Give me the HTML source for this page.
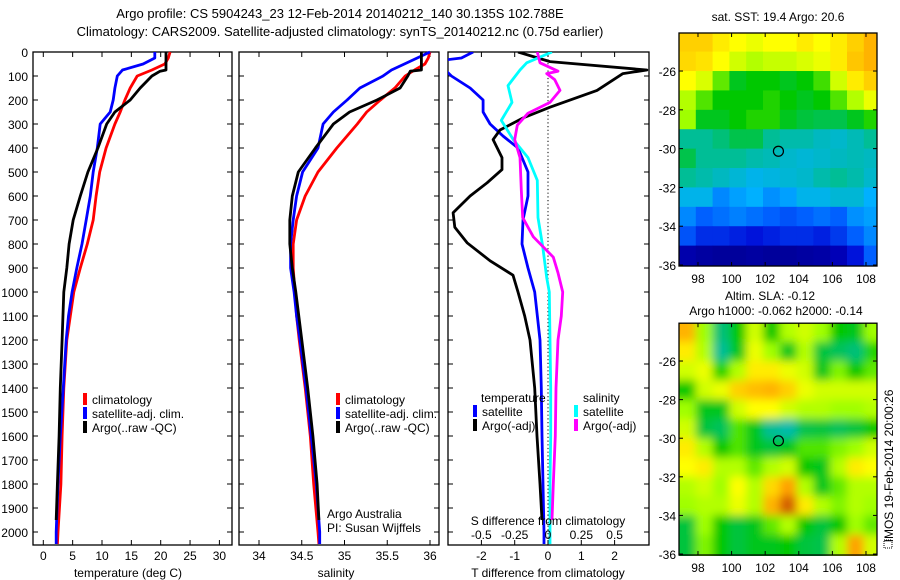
<!DOCTYPE html>
<html><head><meta charset="utf-8"><style>
body{margin:0;background:#fff;}
svg{display:block;font-family:"Liberation Sans",sans-serif;}
text{fill:#000;}
</style></head><body>
<svg id="c" width="900" height="580" viewBox="0 0 900 580">
<defs>
<clipPath id="cp3"><rect x="448" y="52" width="201" height="493"/></clipPath>
<clipPath id="cpm1"><rect x="679" y="33" width="198" height="233"/></clipPath>
<clipPath id="cpm2"><rect x="679" y="323" width="198" height="233"/></clipPath>
<filter id="blur" x="-10%" y="-10%" width="120%" height="120%"><feGaussianBlur stdDeviation="4.5"/></filter>
</defs>
<text x="340" y="18" font-size="13" text-anchor="middle">Argo profile: CS 5904243_23 12-Feb-2014 20140212_140 30.135S 102.788E</text>
<text x="340" y="36" font-size="13" text-anchor="middle">Climatology: CARS2009. Satellite-adjusted climatology: synTS_20140212.nc (0.75d earlier)</text>
<g id="g"></g>
</svg>
<script>
// ---------- data ----------
const depthT = [0,25,50,75,100,150,200,250,300,400,500,600,700,800,900,1000,1100,1200,1400,1600,1800,2000,2050];
const tempClim = [21.6,21.3,20.7,18.5,16,14.8,13.9,13.1,12.2,10.7,9.6,9.0,8.5,7.5,6.3,5.2,4.6,4.0,3.5,3.2,3.0,2.5,2.4];
const tempSat = [19,19,17,13.5,12.6,12.2,11.9,11.4,9.7,9.2,8.5,8.0,7.3,6.6,5.7,4.9,4.3,3.9,3.4,2.9,2.5,2.2,2.2];
const depthArgo = [0,75,80,100,150,200,250,300,400,500,600,700,800,900,1000,1200,1400,1600,1800,1950];
const tempArgo = [20.9,20.9,19.9,18.5,16.5,14.8,12.2,10.8,9.3,7.6,6.3,5.1,4.4,4.0,3.5,3.2,2.9,2.7,2.4,2.2];
const salClim = [36.0,35.98,35.94,35.82,35.71,35.59,35.42,35.26,35.15,34.91,34.69,34.54,34.44,34.40,34.40,34.42,34.44,34.47,34.54,34.60,34.64,34.69,34.70];
const salSat = [36.0,35.85,35.7,35.55,35.45,35.18,35.03,34.87,34.75,34.69,34.51,34.44,34.40,34.37,34.37,34.41,34.44,34.48,34.55,34.61,34.67,34.71,34.71];
const salArgo = [35.9,35.9,35.77,35.74,35.65,35.38,35.06,34.87,34.66,34.46,34.39,34.36,34.36,34.39,34.43,34.5,34.57,34.63,34.68,34.70];
const depthTd = [0,40,75,90,160,230,275,325,365,440,490,545,600,670,730,795,870,930,1000,1100,1200,1400,1600,1800,1950];
const tDiffArgo = [-0.9,0.06,2.97,2.25,1.47,0.06,-0.75,-1.44,-1.65,-1.38,-1.38,-1.83,-2.34,-2.85,-2.8,-2.43,-1.74,-1.05,-0.9,-0.7,-0.54,-0.4,-0.33,-0.24,-0.18];
const depthTs = [0,25,35,60,100,150,200,250,300,350,400,500,600,700,800,900,1000,1200,1400,1600,1800,2000,2050];
const tDiffSat = [-2.25,-2.6,-3.2,-3.2,-2.9,-2.34,-1.95,-1.95,-1.74,-1.35,-0.9,-0.6,-0.6,-0.75,-0.78,-0.6,-0.4,-0.24,-0.2,-0.18,-0.15,-0.12,-0.12];
const depthSs = [0,45,75,140,210,285,365,440,535,690,810,940,1000,1200,1400,1600,1800,2000,2050];
const sDiffSat = [0.03,-0.16,-0.21,-0.3,-0.27,-0.35,-0.26,-0.15,-0.08,-0.075,-0.04,-0.01,0.01,0.015,0.02,0.02,0.015,0.015,0.015];
const depthSa = [0,45,80,90,115,160,210,255,305,365,440,575,690,770,855,920,1000,1100,1200,1400,1600,1800,1950];
const sDiffArgo = [-0.08,-0.06,0.075,-0.01,0.05,0.09,0.015,-0.15,-0.23,-0.25,-0.21,-0.2,-0.19,-0.11,0.04,0.075,0.11,0.1,0.075,0.06,0.055,0.04,0.03];
const depthTicks = [0,100,200,300,400,500,600,700,800,900,1000,1100,1200,1300,1400,1500,1600,1700,1800,1900,2000];
const tempTicks = [0,5,10,15,20,25,30];
const salTicks = [34,34.5,35,35.5,36];
const tdTicks = [-2,-1,0,1,2];
const sdTicks = [-0.5,-0.25,0,0.25,0.5];
const sdTickLabels = ["-0.5","-0.25","0","0.25","0.5"];
const lonTicks = [98,100,102,104,106,108];
const latTicks = [-26,-28,-30,-32,-34,-36];
const argoLon = 102.788, argoLat = -30.135;
// SST grid rows from -24 (top) to -36, columns 1 deg from 96.87
const sstGrid = [
[0.85,0.85,0.82,0.8,0.78,0.8,0.8,0.82,0.8,0.82,0.85,0.88],
[0.84,0.83,0.8,0.75,0.72,0.74,0.74,0.76,0.78,0.82,0.86,0.88],
[0.8,0.76,0.66,0.58,0.6,0.6,0.58,0.6,0.64,0.75,0.82,0.85],
[0.72,0.65,0.6,0.6,0.6,0.62,0.6,0.58,0.6,0.65,0.72,0.78],
[0.7,0.58,0.58,0.6,0.62,0.62,0.58,0.56,0.55,0.55,0.58,0.62],
[0.5,0.5,0.52,0.55,0.55,0.5,0.48,0.48,0.46,0.45,0.47,0.5],
[0.55,0.5,0.5,0.5,0.48,0.47,0.45,0.44,0.45,0.46,0.47,0.46],
[0.5,0.48,0.46,0.44,0.42,0.43,0.44,0.45,0.48,0.5,0.48,0.45],
[0.42,0.42,0.35,0.38,0.4,0.36,0.38,0.42,0.42,0.44,0.44,0.4],
[0.35,0.3,0.32,0.34,0.32,0.3,0.28,0.3,0.32,0.3,0.36,0.38],
[0.28,0.22,0.22,0.2,0.18,0.2,0.22,0.22,0.2,0.24,0.3,0.35],
[0.08,0.06,0.05,0.05,0.06,0.05,0.05,0.06,0.07,0.1,0.18,0.3]];
const slaGrid = [
[0.88,0.7,0.52,0.6,0.75,0.6,0.72,0.75,0.7,0.6,0.58,0.7],
[0.82,0.72,0.5,0.58,0.78,0.7,0.58,0.72,0.56,0.54,0.52,0.62],
[0.75,0.78,0.62,0.72,0.82,0.82,0.78,0.75,0.58,0.68,0.6,0.66],
[0.6,0.75,0.78,0.85,0.87,0.88,0.85,0.78,0.75,0.75,0.75,0.75],
[0.7,0.58,0.58,0.75,0.8,0.8,0.75,0.72,0.72,0.7,0.7,0.72],
[0.75,0.56,0.54,0.65,0.58,0.5,0.48,0.55,0.56,0.54,0.56,0.6],
[0.82,0.72,0.6,0.65,0.58,0.56,0.58,0.65,0.65,0.68,0.7,0.75],
[0.8,0.82,0.72,0.72,0.66,0.72,0.75,0.6,0.58,0.72,0.82,0.8],
[0.72,0.75,0.7,0.8,0.72,0.84,0.9,0.72,0.58,0.66,0.72,0.72],
[0.7,0.72,0.72,0.78,0.72,0.88,0.97,0.82,0.72,0.68,0.72,0.7],
[0.56,0.7,0.6,0.56,0.58,0.66,0.72,0.6,0.56,0.6,0.7,0.66],
[0.56,0.68,0.6,0.56,0.58,0.58,0.6,0.56,0.55,0.72,0.9,0.75]];

// ---------- helpers ----------
const NS="http://www.w3.org/2000/svg";
const G=document.getElementById('g');
function mk(tag,attrs,parent){const e=document.createElementNS(NS,tag);for(const k in attrs)e.setAttribute(k,attrs[k]);(parent||G).appendChild(e);return e;}
function txt(x,y,s,size,anchor,parent){const e=mk('text',{x:x,y:y,'font-size':size||12,'text-anchor':anchor||'middle'},parent);e.textContent=s;return e;}
const yD = d => 52 + d*0.24;
const xT = t => 43.3 + t*5.87;
const xS = s => 259 + (s-34)*85.5;
const xTd = v => 548 + v*33.3;
const xSd = v => 548 + v*133.3;
const mx = lon => 679 + (lon-96.87)*16.8;
const my1 = lat => 33 + (-24.04-lat)*19.4;
const my2 = lat => 323 + (-24.03-lat)*19.3;

function panel(x0,x1,name){
  const r=mk('rect',{x:x0,y:52,width:x1-x0,height:493,fill:'none',stroke:'#000','stroke-width':1.3});
  
  
  depthTicks.forEach(d=>{mk('line',{x1:x0,y1:yD(d),x2:x0+5,y2:yD(d),stroke:'#000'});mk('line',{x1:x1,y1:yD(d),x2:x1-5,y2:yD(d),stroke:'#000'});});
}
function series(xs,ds,fx,color,name,clip){
  const p=ds.map((d,i)=>fx(xs[i]).toFixed(1)+','+yD(d).toFixed(1)).join(' ');
  const e=mk('polyline',{points:p,fill:'none',stroke:color,'stroke-width':2.8,'stroke-linejoin':'round'});
  if(clip)e.setAttribute('clip-path','url(#'+clip+')');
  
  
}
function legendItem(x,y,color,label,name){
  const g=mk('g',{});
  
  
  mk('rect',{x:x,y:y-11,width:4,height:12,fill:color},g);
  txt(x+9,y,label,12,'start',g);
}
// ---------- panel 1 ----------
panel(33,232,'temperature-panel');
depthTicks.forEach(d=>{const t=txt(28,yD(d)+5,String(d),12,'end');});
tempTicks.forEach(v=>{mk('line',{x1:xT(v),y1:52,x2:xT(v),y2:57,stroke:'#000'});mk('line',{x1:xT(v),y1:545,x2:xT(v),y2:540,stroke:'#000'});txt(xT(v),560,String(v),12);});
txt(128,577,'temperature (deg C)',12);
series(tempClim,depthT,xT,'#f00','temp-climatology-line');
series(tempSat,depthT,xT,'#00f','temp-satellite-line');
series(tempArgo,depthArgo,xT,'#000','temp-argo-line');
legendItem(83,404,'#f00','climatology','legend-climatology');
legendItem(83,418,'#00f','satellite-adj. clim.','legend-satellite');
legendItem(83,432,'#000','Argo(..raw -QC)','legend-argo');
// ---------- panel 2 ----------
panel(239,439,'salinity-panel');
salTicks.forEach(v=>{mk('line',{x1:xS(v),y1:52,x2:xS(v),y2:57,stroke:'#000'});mk('line',{x1:xS(v),y1:545,x2:xS(v),y2:540,stroke:'#000'});txt(xS(v),560,String(v),12);});
txt(336,577,'salinity',12);
series(salClim,depthT,xS,'#f00','sal-climatology-line');
series(salSat,depthT,xS,'#00f','sal-satellite-line');
series(salArgo,depthArgo,xS,'#000','sal-argo-line');
legendItem(336,404,'#f00','climatology','legend-sal-climatology');
legendItem(336,418,'#00f','satellite-adj. clim.','legend-sal-satellite');
legendItem(336,432,'#000','Argo(..raw -QC)','legend-sal-argo');
txt(327,518,'Argo Australia',12,'start');
txt(327,532,'PI: Susan Wijffels',12,'start');
// ---------- panel 3 ----------
panel(448,649,'difference-panel');
mk('line',{x1:548,y1:52,x2:548,y2:545,stroke:'#000','stroke-dasharray':'1.2,2.5','stroke-width':1});
tdTicks.forEach(v=>{mk('line',{x1:xTd(v),y1:52,x2:xTd(v),y2:57,stroke:'#000'});mk('line',{x1:xTd(v),y1:545,x2:xTd(v),y2:540,stroke:'#000'});txt(xTd(v),560,String(v),12);});
txt(548,577,'T difference from climatology',12);
series(tDiffSat,depthTs,xTd,'#00f','t-diff-satellite-line','cp3');
series(tDiffArgo,depthTd,xTd,'#000','t-diff-argo-line','cp3');
series(sDiffSat,depthSs,xSd,'#0ff','s-diff-satellite-line','cp3');
series(sDiffArgo,depthSa,xSd,'#f0f','s-diff-argo-line','cp3');
sdTicks.forEach((v,i)=>txt(xSd(v),539,sdTickLabels[i],12));
txt(548,525,'S difference from climatology',12);
txt(481,402,'temperature',12,'start');
txt(583,402,'salinity',12,'start');
legendItem(473,416,'#00f','satellite','legend-t-satellite');
legendItem(473,430,'#000','Argo(-adj)','legend-t-argo');
legendItem(574,416,'#0ff','satellite','legend-s-satellite');
legendItem(574,430,'#f0f','Argo(-adj)','legend-s-argo');
// ---------- maps ----------
const stops=[[0,[0,0,128]],[0.15,[0,0,210]],[0.3,[0,96,255]],[0.4,[0,176,255]],[0.5,[0,190,150]],[0.6,[0,200,0]],[0.7,[160,255,0]],[0.8,[255,255,0]],[0.9,[255,160,0]],[1,[192,64,0]]];
function cmap(v){for(let i=1;i<stops.length;i++){if(v<=stops[i][0]){const a=stops[i-1],b=stops[i];const f=(v-a[0])/(b[0]-a[0]);return 'rgb('+a[1].map((c,k)=>Math.round(c+(b[1][k]-c)*f)).join(',')+')';}}return 'rgb(192,64,0)';}
function map(grid,my,clip,name,blur){
  const g=mk('g',{'clip-path':'url(#'+clip+')'});
  
  
  const inner=mk('g',blur?{filter:'url(#blur)'}:{},g);
  grid.forEach((row,r)=>row.forEach((v,c)=>{
    const x0=mx(96.87+c),x1=mx(97.87+c),y0=my(-24-r),y1=my(-25-r);
    const e=mk('rect',{x:x0-(blur&&c==0?20:0),y:y0-(blur&&r==0?20:0),width:x1-x0+0.6+(blur&&(c==0||c==11)?20:0),height:y1-y0+0.6+(blur&&(r==0||r==11)?20:0),fill:cmap(v)},inner);
    
    
  }));
  const yt=my(-24.04),yb=my(-36.0)+1;
  mk('rect',{x:679,y:yt,width:198,height:yb-yt,fill:'none',stroke:'#000','stroke-width':1.3});
  lonTicks.forEach(l=>{mk('line',{x1:mx(l),y1:yt,x2:mx(l),y2:yt+4,stroke:'#000'});mk('line',{x1:mx(l),y1:yb,x2:mx(l),y2:yb-4,stroke:'#000'});txt(mx(l),yb+17,String(l),12);});
  latTicks.forEach(l=>{mk('line',{x1:877,y1:my(l),x2:873,y2:my(l),stroke:'#000'});mk('line',{x1:679,y1:my(l),x2:683,y2:my(l),stroke:'#000'});txt(676,my(l)+5,String(l),12,'end');});
  const c=mk('circle',{cx:mx(argoLon),cy:my(argoLat),r:5,fill:'none',stroke:'#000','stroke-width':1.2});
  
  
}
txt(778,21,'sat. SST: 19.4 Argo: 20.6',12);
map(sstGrid,my1,'cpm1','sst-map',false);
txt(770,300,'Altim. SLA: -0.12',12);
txt(776,315,'Argo h1000: -0.062 h2000: -0.14',12);
map(slaGrid,my2,'cpm2','sla-map',true);
const im=txt(0,0,'IMOS 19-Feb-2014 20:00:26',12,'middle');
im.setAttribute('transform','translate(893,466) rotate(-90)');


mk('rect',{x:884,y:540,width:8,height:8,fill:'none',stroke:'#000','stroke-dasharray':'1,1'});
</script>
</body></html>
